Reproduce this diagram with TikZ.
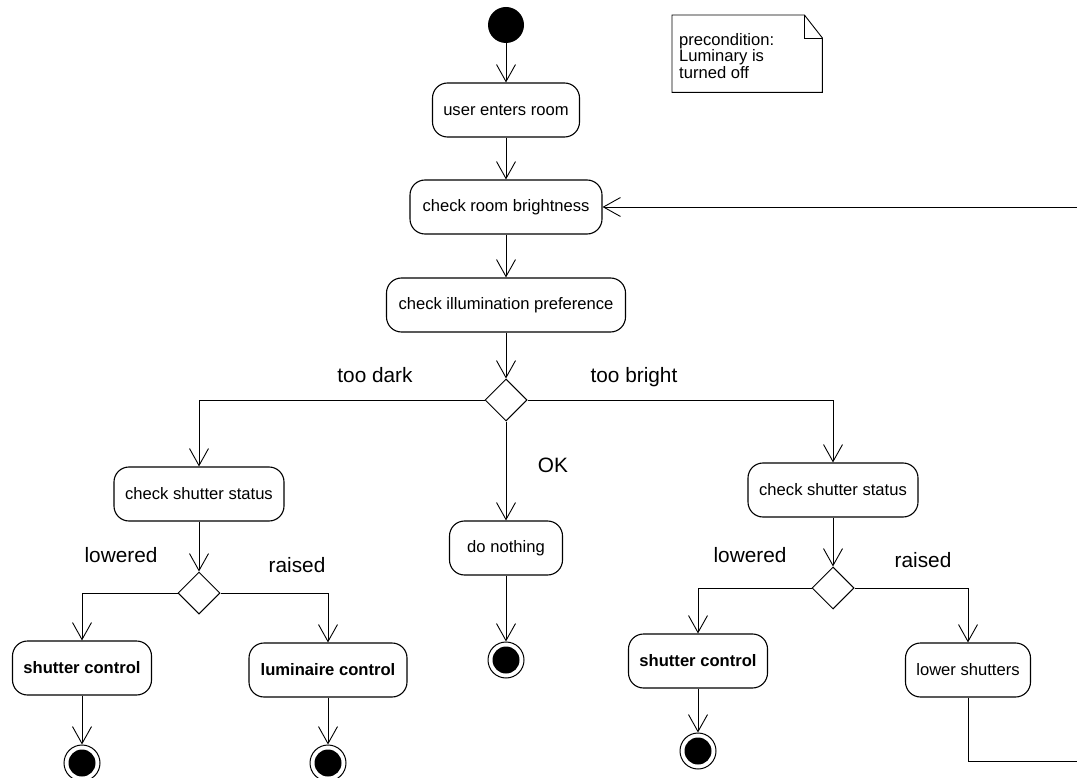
\documentclass[tikz,border=0pt]{standalone}
\usepackage{fontspec}
\setmainfont{Liberation Sans}
\usetikzlibrary{arrows.meta,shapes.geometric}
\begin{document}
\begin{tikzpicture}[x=1pt,y=-1pt,
  act/.style={draw, rounded corners=15pt, line width=1.1pt, minimum height=54pt,
    inner sep=0pt, font=\fontsize{16.6}{17}\selectfont},
  strong/.style={font=\fontsize{16.6}{17}\selectfont\bfseries},
  choice/.style={draw, diamond, aspect=1, minimum size=42pt, inner sep=0pt, line width=1pt},
  startstate/.style={circle, fill=black, minimum size=36pt, inner sep=0pt},
  endstate/.style={circle, draw, line width=1pt, fill=white, minimum size=36pt, inner sep=0pt,
    path picture={\fill[black] (path picture bounding box.center) circle (13.5pt);}},
  flow/.style={-{Straight Barb[length=17pt,width=19pt]}, line width=0.9pt},
  guard/.style={font=\fontsize{20.8}{24}\selectfont, anchor=base, inner sep=0pt},
  notetxt/.style={font=\fontsize{16.6}{16.5}\selectfont, align=left, inner sep=0pt, anchor=north west}
]
\useasboundingbox (0,0) rectangle (1077,778);
\clip (0,0) rectangle (1077,778);

% activity nodes
\node[startstate] (s0) at (506,25) {};
\node[act, minimum width=147pt] (u) at (506,110) {user enters room};
\node[act, minimum width=192pt] (b) at (506,207) {check room brightness};
\node[act, minimum width=239pt] (p) at (506,305) {check illumination preference};
\node[choice] (d1) at (506,400) {};
\node[act, minimum width=170pt] (sl) at (199,494) {check shutter status};
\node[act, minimum width=113pt] (n) at (506,548) {do nothing};
\node[act, minimum width=170pt] (sr) at (833,490) {check shutter status};
\node[choice] (d2) at (199,593) {};
\node[choice] (d3) at (833,588) {};
\node[act, strong, minimum width=139pt] (scl) at (82,668) {shutter control};
\node[act, strong, minimum width=158pt] (lc) at (328,670) {luminaire control};
\node[act, strong, minimum width=139pt] (scr) at (698,661) {shutter control};
\node[act, minimum width=125pt] (ls) at (968,670) {lower shutters};
\node[endstate] (f1) at (82,763) {};
\node[endstate] (f2) at (328,763) {};
\node[endstate] (f3) at (506,660) {};
\node[endstate] (f4) at (698,751) {};

% transitions
\draw[flow] (s0) -- (u);
\draw[flow] (u) -- (b);
\draw[flow] (b) -- (p);
\draw[flow] (p) -- (d1);
\draw[flow] (d1.west) -| (sl.north);
\draw[flow] (d1.east) -| (sr.north);
\draw[flow] (d1.south) -- (n.north);
\draw[flow] (n) -- (f3);
\draw[flow] (sl) -- (d2);
\draw[flow] (d2.west) -| (scl.north);
\draw[flow] (d2.east) -| (lc.north);
\draw[flow] (scl) -- (f1);
\draw[flow] (lc) -- (f2);
\draw[flow] (sr) -- (d3);
\draw[flow] (d3.west) -| (scr.north);
\draw[flow] (d3.east) -| (ls.north);
\draw[flow] (scr) -- (f4);
\coordinate (loop) at (1090,761);
\draw[flow] (ls.south) |- (loop) |- (b.east);

% guards
\node[guard] (gdark) at (375,382) {too dark};
\node[guard] (gbright) at (634,382) {too bright};
\node[guard] (gok) at (553,472) {OK};
\node[guard] (glow1) at (121,562) {lowered};
\node[guard] (graise1) at (297,572) {raised};
\node[guard] (glow2) at (750,562) {lowered};
\node[guard] (graise2) at (923,567) {raised};

% note with folded corner
\node[anchor=north west, minimum width=150pt, minimum height=77pt, inner sep=0pt] (note) at (672,15) {};
\draw[line width=0.9pt] (note.south west) -- (note.north west) -- ([xshift=-18pt]note.north east)
  -- ([yshift=-23pt]note.north east) -- (note.south east) -- cycle;
\draw[line width=0.9pt] ([xshift=-18pt]note.north east) |- ([yshift=-23pt]note.north east);
\node[notetxt] (notetext) at ([xshift=7pt,yshift=-18pt]note.north west)
  {precondition:\\Luminary is\\turned off};
\end{tikzpicture}
\end{document}
